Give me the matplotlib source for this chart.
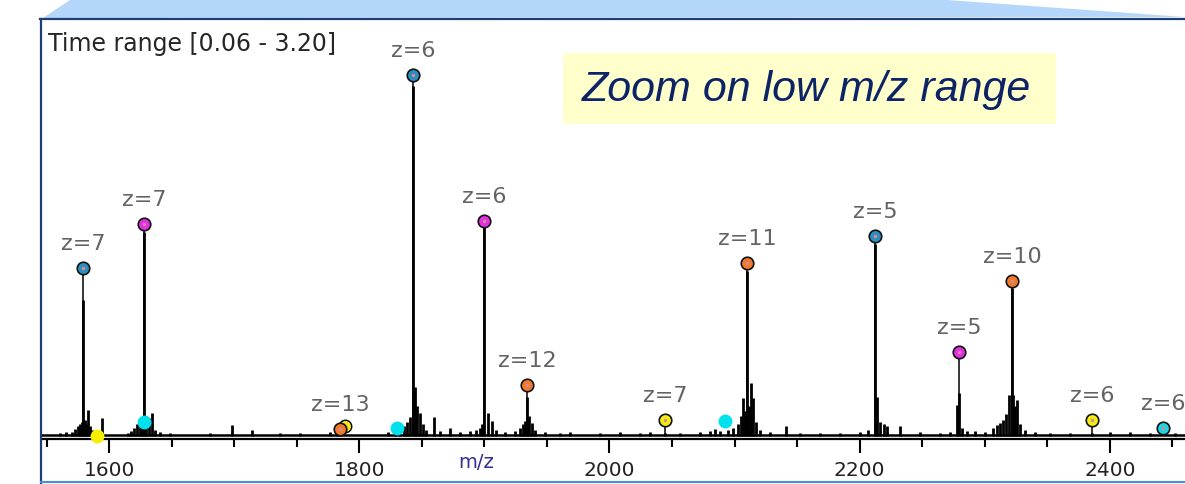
import matplotlib.pyplot as plt
from matplotlib.patches import Polygon, Rectangle
from matplotlib.lines import Line2D
from matplotlib.ticker import MultipleLocator

W, H = 1185, 484

# charge-state annotated peaks: m/z, marker intensity, series colour, charge
peak_mz = [1579.2, 1628.0, 1785.0, 1843.0, 1899.8, 1934.1, 2044.4,
           2110.0, 2212.3, 2279.5, 2321.8, 2385.8, 2442.5]
peak_int = [168, 212, 7, 361, 215, 51, 16, 173, 200, 84, 155, 16, 8]
peak_color = ["#2a8fbf", "#e22fe0", "#f07a2c", "#2a8fbf", "#e22fe0", "#f07a2c",
              "#f2ee10", "#f07a2c", "#2a8fbf", "#e22fe0", "#f07a2c", "#f2ee10",
              "#19d6e0"]
peak_z = [7, 7, 13, 6, 6, 12, 7, 11, 5, 5, 10, 6, 6]

# unlabelled series markers
extra_mz = [1590.4, 1628.0, 1788.6, 1830.2, 2092.4]
extra_int = [0, 14, 10, 8, 15]
extra_color = ["#f5f000", "#00e1ee", "#f5e81a", "#00e1ee", "#00e1ee"]
extra_edge = [False, False, True, False, False]

# spectrum sticks (m/z, intensity)
spec_mz = [1579.2, 1628.0, 1843.0, 1899.8, 1934.1, 2110.0, 2212.3, 2279.5,
           2321.8, 2044.4, 2385.8,
           1560.8, 1565.6, 1570.4, 1572.8, 1575.2, 1576.8, 1578.4, 1580.8,
           1581.6, 1583.2, 1584.8, 1586.4, 1594.4,
           1615.2, 1617.6, 1620.0, 1622.4, 1624.8, 1626.4, 1629.6, 1632.0,
           1634.4, 1636.8, 1640.8, 1648.8,
           1680.7, 1698.3, 1714.3, 1736.7, 1752.7, 1776.7, 1782.3,
           1823.0, 1828.6, 1832.6, 1835.8, 1838.2, 1840.6, 1844.6, 1846.2,
           1848.6, 1851.0, 1853.4, 1859.8, 1864.6, 1872.6, 1880.6, 1888.6,
           1893.4, 1896.6, 1898.2, 1903.0, 1906.2, 1909.4, 1916.6, 1924.6,
           1928.6, 1931.0, 1932.6, 1935.8, 1938.2, 1940.5, 1948.5, 1960.5,
           1968.5, 1992.5, 2008.5, 2024.5, 2032.5, 2056.5, 2072.5, 2080.5,
           2084.5, 2088.5, 2094.9, 2098.9, 2102.9, 2105.3, 2106.9, 2108.5,
           2111.7, 2113.2, 2114.8, 2117.2, 2120.4, 2128.4, 2141.2, 2152.4,
           2168.4, 2184.4, 2200.4, 2206.7, 2213.9, 2216.3, 2219.5, 2221.9,
           2232.3, 2248.3, 2264.3, 2272.3, 2277.9, 2281.9, 2285.9, 2292.3,
           2300.3, 2306.6, 2309.8, 2312.3, 2314.7, 2317.1, 2319.5, 2322.7,
           2324.3, 2325.9, 2328.2, 2332.2, 2340.2, 2352.2, 2368.2, 2400.2,
           2416.2, 2432.2, 2452.2]
spec_int = [136, 204, 350, 210, 39, 165, 192, 43, 148, 3, 3,
            3, 4, 4, 7, 10, 12, 14, 16,
            12, 26, 10, 6, 18,
            3, 5, 8, 12, 16, 18, 20, 18,
            23, 6, 4, 3,
            3, 11, 6, 3, 3, 4, 6,
            4, 5, 7, 10, 14, 19, 49, 30,
            23, 12, 6, 19, 5, 8, 4, 5,
            6, 8, 12, 23, 15, 6, 4, 5,
            8, 12, 15, 20, 13, 6, 4, 3,
            4, 3, 4, 3, 4, 3, 4, 5,
            7, 5, 6, 8, 12, 20, 38, 25,
            30, 53, 38, 14, 6, 4, 10, 3,
            3, 3, 4, 6, 39, 14, 12, 10,
            10, 4, 3, 4, 31, 8, 5, 5,
            4, 8, 11, 13, 16, 22, 41, 41,
            30, 36, 12, 6, 4, 3, 3, 4,
            4, 3, 3]

x_ticks_major = 200
x_ticks_minor = 50


def fx(x):
    return x / W


def fy(y):
    return 1 - y / H


fig = plt.figure(figsize=(W / 100, H / 100), dpi=100)
fig.patch.set_facecolor("white")

# light blue zoom trapezoid above the frame
fig.add_artist(Polygon([(fx(43), fy(18)), (fx(70), fy(0)), (fx(947), fy(0)),
                        (fx(1185), fy(17))], closed=True,
                       transform=fig.transFigure, facecolor="#b3d6fa",
                       edgecolor="none"))

ax = fig.add_axes([fx(42), fy(439), fx(1185) - fx(42), fy(20) - fy(439)])
ax.set_xlim(1546.4, 2460.1)
ax.set_ylim(-3, 416)

ax.axhline(0.8, color="black", lw=1.8, zorder=2)
ax.vlines(spec_mz, 0, spec_int, color="black", lw=2.0, zorder=2)
ax.vlines(peak_mz, 0, peak_int, color="black", lw=1.1, zorder=2)

for mz, inten, col, edge in zip(extra_mz, extra_int, extra_color, extra_edge):
    ax.plot(mz, inten, "o", ms=9, mfc=col,
            mec="black" if edge else col, mew=1.0, zorder=4, clip_on=False)

for mz, inten, col, z in zip(peak_mz, peak_int, peak_color, peak_z):
    ax.plot(mz, inten, "o", ms=9, mfc=col, mec="#111111", mew=1.2, zorder=5)
    ax.plot(mz, inten, "o", ms=2.5, mfc="#d98a9a", mec="none", zorder=6)
    ax.annotate("z=%d" % z, (mz, inten), xytext=(0, 17), textcoords="offset points",
                ha="center", va="center", fontsize=16, color="#636363",
                annotation_clip=False)

for s in ["left", "right", "top"]:
    ax.spines[s].set_visible(False)
ax.spines["bottom"].set_linewidth(1.6)
ax.set_yticks([])
ax.xaxis.set_major_locator(MultipleLocator(x_ticks_major))
ax.xaxis.set_minor_locator(MultipleLocator(x_ticks_minor))
ax.tick_params(axis="x", which="major", length=10, width=1.5, pad=6,
               labelsize=14.5, labelcolor="#222222")
ax.tick_params(axis="x", which="minor", length=6, width=1.5)
ax.set_facecolor("none")

fig.text(fx(476), fy(463), "m/z", ha="center", va="center", fontsize=14,
         color="#2f2f96")

# frame borders
fig.add_artist(Line2D([fx(41), fx(41)], [fy(19), fy(483)], color="#1d3f73",
                      lw=1.6, transform=fig.transFigure))
fig.add_artist(Line2D([fx(40), fx(1185)], [fy(19), fy(19)], color="#1d3f73",
                      lw=1.6, transform=fig.transFigure))
fig.add_artist(Line2D([fx(41), fx(1185)], [fy(482), fy(482)], color="#4a8fd6",
                      lw=1.5, transform=fig.transFigure))

fig.text(fx(48), fy(44), "Time range [0.06 - 3.20]", ha="left", va="center",
         fontsize=17, color="#262626")

fig.add_artist(Rectangle((fx(563), fy(124)), fx(1056) - fx(563), fy(53) - fy(124),
                         transform=fig.transFigure, facecolor="#ffffcc",
                         edgecolor="none"))
fig.text(fx(806), fy(90), "Zoom on low m/z range", ha="center", va="center",
         fontsize=31, style="italic", family="Liberation Sans", color="#0c2366")

fig.savefig("out.png", dpi=100)
